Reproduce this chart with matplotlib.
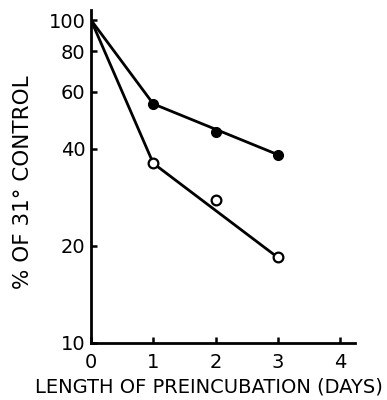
import matplotlib
matplotlib.use("Agg")
import matplotlib.pyplot as plt
from matplotlib.ticker import FixedLocator, NullLocator

# Survival data (% of 31° control) versus days of preincubation
days = [0, 1, 2, 3]
filled_pct = [100, 55, 45, 38.3]
open_pct = [100, 36, 27.8, 18.4]

# The drawn lines pass through days 0, 1 and 3
line_days = [0, 1, 3]
filled_line = [100, 55, 38.3]
open_line = [100, 36, 18.4]

x_ticks = [0, 1, 2, 3, 4]
x_labels = ["0", "1", "2", "3", "4"]
y_ticks = [10, 20, 40, 60, 80, 100]
y_labels = ["10", "20", "40", "60", "80", "100"]

plt.rcParams["font.family"] = ["DejaVu Sans"]

fig = plt.figure(figsize=(3.87, 4.00), dpi=100)
ax = fig.add_axes([91 / 387, 57 / 400, 264 / 387, 333 / 400])

ax.set_yscale("log")
ax.set_xlim(0, 4.24)
ax.set_ylim(10, 107.4)

lw = 2.0
ax.plot(line_days, filled_line, color="black", lw=lw, solid_capstyle="round")
ax.plot(line_days, open_line, color="black", lw=lw, solid_capstyle="round")
ax.plot(days[1:], filled_pct[1:], "o", color="black", ms=7, zorder=3)
ax.plot(days[1:], open_pct[1:], "o", mfc="white", mec="black", mew=1.6,
        ms=7, zorder=3)

ax.xaxis.set_major_locator(FixedLocator(x_ticks))
ax.set_xticklabels(x_labels)
ax.yaxis.set_major_locator(FixedLocator(y_ticks))
ax.yaxis.set_minor_locator(NullLocator())
ax.set_yticklabels(y_labels)

for side in ("top", "right"):
    ax.spines[side].set_visible(False)
for side in ("left", "bottom"):
    ax.spines[side].set_linewidth(2.0)

ax.tick_params(axis="both", direction="in", length=4, width=1.8,
               labelsize=14)
ax.tick_params(axis="x", pad=7)
ax.tick_params(axis="y", pad=4)

fig.text(23 / 387, 1 - 182 / 400, "% OF 31° CONTROL", rotation=90,
         ha="center", va="center", fontsize=15.5)
fig.text(209 / 387, 1 - 387 / 400, "LENGTH OF PREINCUBATION (DAYS)",
         ha="center", va="center", fontsize=14)

fig.savefig("out.png", dpi=100)
